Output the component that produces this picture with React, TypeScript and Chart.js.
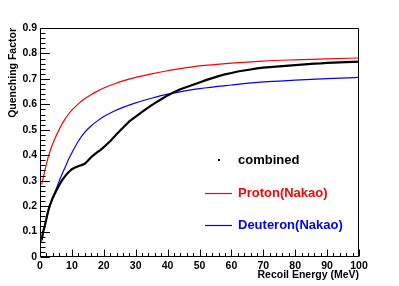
import React, { useEffect, useRef } from "react";
import { Chart, registerables } from "chart.js";
Chart.register(...registerables);

// Measured data ("combined")
const combinedE = [0.5, 1, 1.5, 2, 2.5, 3, 4, 5, 6, 7, 8, 9, 10, 11, 12, 13, 14, 15, 16, 17, 18, 19, 20, 22, 24, 26, 28, 30, 32, 34, 36, 38, 40, 42, 44, 46, 48, 50, 52, 54, 56, 58, 60, 62, 64, 66, 68, 70, 72, 74, 76, 78, 80, 82, 84, 86, 88, 90, 92, 94, 96, 98, 100];
const combinedQ = [0.068, 0.1, 0.122, 0.15, 0.178, 0.2, 0.232, 0.258, 0.282, 0.303, 0.32, 0.334, 0.345, 0.352, 0.357, 0.361, 0.366, 0.378, 0.392, 0.402, 0.412, 0.421, 0.432, 0.455, 0.482, 0.508, 0.533, 0.552, 0.57, 0.588, 0.605, 0.62, 0.635, 0.648, 0.659, 0.668, 0.677, 0.686, 0.695, 0.703, 0.711, 0.718, 0.723, 0.729, 0.733, 0.737, 0.741, 0.744, 0.746, 0.748, 0.75, 0.752, 0.754, 0.756, 0.758, 0.76, 0.761, 0.763, 0.764, 0.765, 0.766, 0.767, 0.768];

// Proton (Nakao)
const protonE = [0.5, 1, 2, 3, 4, 5, 6, 7, 8, 9, 10, 12, 14, 16, 18, 20, 23, 26, 30, 35, 40, 45, 50, 60, 70, 80, 90, 100];
const protonQ = [0.285, 0.31, 0.365, 0.41, 0.445, 0.475, 0.5, 0.525, 0.545, 0.562, 0.577, 0.602, 0.622, 0.638, 0.652, 0.664, 0.679, 0.692, 0.706, 0.72, 0.732, 0.742, 0.751, 0.762, 0.77, 0.775, 0.779, 0.782];

// Deuteron (Nakao)
const deuteronE = [0.5, 1, 2, 3, 4, 5, 6, 7, 8, 9, 10, 12, 14, 16, 18, 20, 23, 26, 30, 35, 40, 45, 50, 60, 70, 80, 90, 100];
const deuteronQ = [0.06, 0.095, 0.15, 0.195, 0.235, 0.265, 0.298, 0.328, 0.356, 0.385, 0.41, 0.455, 0.49, 0.515, 0.535, 0.552, 0.572, 0.588, 0.606, 0.624, 0.64, 0.652, 0.662, 0.676, 0.688, 0.695, 0.701, 0.706];

const seriesLabels = ["combined", "Proton(Nakao)", "Deuteron(Nakao)"];
const xTitle = "Recoil Energy (MeV)";
const yTitle = "Quenching Factor";

const FONT = "Arial, 'Liberation Sans', Helvetica, sans-serif";

const toPts = (xs: number[], ys: number[]) => xs.map((x, i) => ({ x, y: ys[i] }));

const framePlugin = {
  id: "rootFrame",
  afterDatasetsDraw(chart: any) {
    const { ctx, chartArea, scales } = chart;
    const { left, right, top, bottom } = chartArea;
    const xs = scales.x;
    const ys = scales.y;
    ctx.save();
    ctx.strokeStyle = "#000";
    ctx.lineWidth = 1;
    const L = Math.round(left) + 0.5;
    const R = Math.round(right) - 0.5;
    const T = Math.round(top) + 0.5;
    const B = Math.round(bottom) - 0.5;
    ctx.beginPath();
    ctx.rect(L, T, R - L, B - T);
    ctx.stroke();
    ctx.beginPath();
    for (let i = 0; i <= 50; i++) {
      const v = i * 2;
      const px = Math.round(xs.getPixelForValue(v)) + 0.5;
      const len = i % 5 === 0 ? 7 : 3.5;
      ctx.moveTo(px, B);
      ctx.lineTo(px, B - len);
    }
    for (let i = 0; i <= 45; i++) {
      const v = i * 0.02;
      const py = Math.round(ys.getPixelForValue(v)) + 0.5;
      const len = i % 5 === 0 ? 9.5 : 5;
      ctx.moveTo(L, py);
      ctx.lineTo(L + len, py);
    }
    ctx.stroke();
    ctx.restore();
  },
};

const legendPlugin = {
  id: "rootLegend",
  afterDraw(chart: any) {
    const { ctx } = chart;
    const ds = chart.data.datasets;
    const rows = [160, 193, 225];
    ctx.save();
    ctx.font = `bold 13px ${FONT}`;
    ctx.textBaseline = "middle";
    ctx.textAlign = "left";
    ds.forEach((d: any, i: number) => {
      const y = rows[i];
      if (i === 0) {
        ctx.fillStyle = "#000";
        ctx.fillRect(218, y - 1, 2, 2);
        ctx.fillStyle = "#000";
      } else {
        ctx.strokeStyle = d.borderColor;
        ctx.lineWidth = 1.2;
        ctx.beginPath();
        ctx.moveTo(205, y + 0.5);
        ctx.lineTo(232, y + 0.5);
        ctx.stroke();
        ctx.fillStyle = d.borderColor;
      }
      ctx.fillText(d.label, 238, y + 0.5);
    });
    ctx.restore();
  },
};

export default function App() {
  const ref = useRef<HTMLCanvasElement | null>(null);
  useEffect(() => {
    if (!ref.current) return;
    const chart = new Chart(ref.current, {
      type: "line",
      data: {
        datasets: [
          {
            label: seriesLabels[0],
            data: toPts(combinedE, combinedQ),
            borderColor: "#000000",
            backgroundColor: "#000000",
            borderWidth: 2.2,
            pointRadius: 0,
            tension: 0,
          },
          {
            label: seriesLabels[1],
            data: toPts(protonE, protonQ),
            borderColor: "#ff0000",
            backgroundColor: "#ff0000",
            borderWidth: 1.2,
            pointRadius: 0,
            cubicInterpolationMode: "monotone",
          },
          {
            label: seriesLabels[2],
            data: toPts(deuteronE, deuteronQ),
            borderColor: "#0000ff",
            backgroundColor: "#0000ff",
            borderWidth: 1.2,
            pointRadius: 0,
            cubicInterpolationMode: "monotone",
          },
        ],
      },
      options: {
        animation: false,
        responsive: false,
        devicePixelRatio: 1,
        layout: { padding: { top: 28, right: 40, left: 0, bottom: 0 } },
        plugins: { legend: { display: false }, tooltip: { enabled: false } },
        scales: {
          x: {
            type: "linear",
            min: 0,
            max: 100,
            grid: { display: false, drawTicks: false },
            border: { display: false },
            ticks: {
              stepSize: 10,
              padding: 3,
              maxRotation: 0,
              autoSkip: false,
              color: "#000",
              font: { family: FONT, size: 10.5, weight: "bold" },
              callback: (v: any) => String(v),
            },
            title: {
              display: true,
              text: xTitle,
              align: "end",
              color: "#000",
              padding: { top: 0, bottom: 5 },
              font: { family: FONT, size: 10.5, weight: "bold" },
            },
            afterFit: (s: any) => {
              s.height = 29;
            },
          },
          y: {
            type: "linear",
            min: 0,
            max: 0.9,
            grid: { display: false, drawTicks: false },
            border: { display: false },
            ticks: {
              stepSize: 0.1,
              padding: 3,
              autoSkip: false,
              color: "#000",
              font: { family: FONT, size: 10.5, weight: "bold" },
              callback: (v: any) => (Math.abs(v) < 1e-9 ? "0" : Number(v).toFixed(1)),
            },
            title: {
              display: true,
              text: yTitle,
              align: "end",
              color: "#000",
              padding: { top: 7, bottom: 0 },
              font: { family: FONT, size: 10.5, weight: "bold" },
            },
            afterFit: (s: any) => {
              s.width = 40;
            },
          },
        },
      },
      plugins: [framePlugin, legendPlugin],
    } as any);
    return () => chart.destroy();
  }, []);
  return (
    <div style={{ position: "fixed", left: 0, top: 0, width: 399, height: 286, background: "#fff" }}>
      <canvas ref={ref} width={399} height={286} style={{ display: "block" }} />
    </div>
  );
}
